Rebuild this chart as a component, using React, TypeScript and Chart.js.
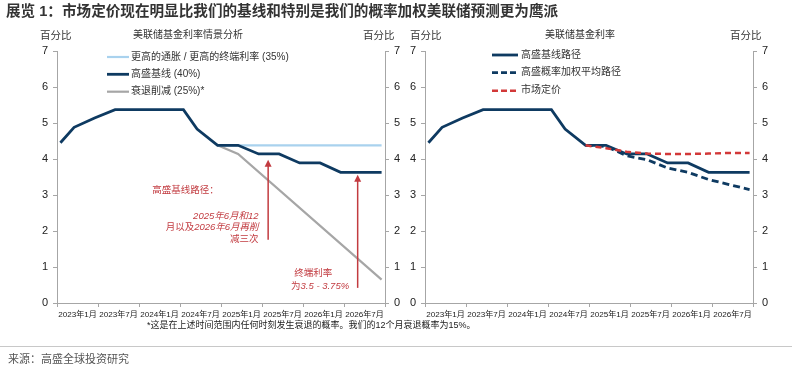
import React, { useEffect, useRef } from "react";
import { Chart, registerables } from "chart.js";

Chart.register(...registerables);

const FONT = "'Liberation Sans', Arial, 'Noto Sans CJK SC', sans-serif";
const NARROW_FONT = "'Liberation Sans Narrow', 'Arial Narrow', 'Liberation Sans', 'Noto Sans CJK SC', sans-serif";

// ---- data ----
const xTickLabels = [
  "2023年1月", "2023年7月", "2024年1月", "2024年7月",
  "2025年1月", "2025年7月", "2026年1月", "2026年7月",
];

// month index: 0 = 2023年1月
const baselineMonths = [0, 2, 5, 8, 18, 20, 23, 26, 29, 32, 35, 38, 41, 47];
const baselineValues = [4.45, 4.88, 5.14, 5.37, 5.37, 4.83, 4.38, 4.38, 4.14, 4.14, 3.89, 3.89, 3.63, 3.63];

const higherInflationMonths = [23, 47];
const higherInflationValues = [4.38, 4.38];

const recessionMonths = [23, 26, 47];
const recessionValues = [4.38, 4.14, 0.65];

const weightedMonths = [23, 26, 29, 32, 35, 38, 41, 44, 47];
const weightedValues = [4.38, 4.35, 4.09, 3.98, 3.75, 3.63, 3.43, 3.29, 3.15];

const marketMonths = [23, 26, 29, 32, 35, 38, 41, 44, 47];
const marketValues = [4.38, 4.3, 4.2, 4.15, 4.14, 4.14, 4.15, 4.17, 4.17];

const leftLegendLabels = ["更高的通胀 / 更高的终端利率 (35%)", "高盛基线 (40%)", "衰退削减 (25%)*"];
const rightLegendLabels = ["高盛基线路径", "高盛概率加权平均路径", "市场定价"];

// ---- styles ----
const AXIS_COLOR = "#a6a6a6";
const NAVY = "#0e3a61";
const LIGHT_BLUE = "#a9d2ee";
const GRAY = "#a6a6a6";
const RED = "#d23838";
const ANNOT_RED = "#c23b40";
const TEXT = "#333333";

const toPoints = (xs: number[], ys: number[]) => xs.map((x, i) => ({ x, y: ys[i] }));

function xScale() {
  return {
    type: "linear",
    min: -0.5,
    max: 47.5,
    afterBuildTicks: (s: any) => {
      const t: any[] = [];
      for (let k = 0; k <= 16; k++) t.push({ value: -0.5 + 3 * k });
      s.ticks = t;
    },
    afterFit: (s: any) => {
      s.height = 20;
    },
    grid: {
      drawOnChartArea: false,
      drawTicks: true,
      tickLength: 4,
      tickColor: (c: any) => {
        const v = c.tick ? c.tick.value : -0.5;
        return Math.round((v + 0.5) / 3) % 2 === 0 ? AXIS_COLOR : "rgba(0,0,0,0)";
      },
    },
    border: { display: true, color: AXIS_COLOR, width: 1 },
    ticks: {
      autoSkip: false,
      maxRotation: 0,
      minRotation: 0,
      padding: 3,
      color: "#222",
      font: { family: FONT, size: 8.1 },
      callback: (value: number) => {
        const k = Math.round((value + 0.5) / 3);
        return k % 2 === 1 ? xTickLabels[(k - 1) / 2] : "";
      },
    },
  };
}

function yScale(position: string, width: number) {
  return {
    type: "linear",
    display: true,
    position,
    min: 0,
    max: 7,
    afterFit: (s: any) => {
      s.width = width;
    },
    grid: { drawOnChartArea: false, drawTicks: true, tickLength: 4, tickColor: AXIS_COLOR },
    border: { display: true, color: AXIS_COLOR, width: 1 },
    ticks: { stepSize: 1, padding: 5, color: "#222", font: { family: FONT, size: 11 } },
  };
}

type LegendItem = { label: string; color: string; dash: number[]; width: number };

function legendPlugin(items: LegendItem[], x0: number, x1: number, tx: number, ys: number[]) {
  return {
    id: "customLegend",
    afterDraw(chart: any) {
      const ctx = chart.ctx;
      ctx.save();
      items.forEach((it, i) => {
        ctx.strokeStyle = it.color;
        ctx.lineWidth = it.width;
        ctx.setLineDash(it.dash);
        ctx.beginPath();
        ctx.moveTo(x0, ys[i]);
        ctx.lineTo(x1, ys[i]);
        ctx.stroke();
        ctx.setLineDash([]);
        ctx.fillStyle = TEXT;
        ctx.font = `10px ${FONT}`;
        ctx.textBaseline = "middle";
        ctx.textAlign = "left";
        ctx.fillText(it.label, tx, ys[i]);
      });
      ctx.restore();
    },
  };
}

type Run = [string, boolean];

function drawRuns(ctx: any, runs: Run[], x: number, y: number, align: "left" | "right" | "center") {
  const size = 9.5;
  const fontFor = (it: boolean) => `${it ? "italic " : ""}${size}px ${FONT}`;
  let total = 0;
  runs.forEach(([t, it]) => {
    ctx.font = fontFor(it);
    total += ctx.measureText(t).width;
  });
  let cx = align === "left" ? x : align === "right" ? x - total : x - total / 2;
  ctx.textAlign = "left";
  ctx.textBaseline = "middle";
  runs.forEach(([t, it]) => {
    ctx.font = fontFor(it);
    ctx.fillText(t, cx, y);
    cx += ctx.measureText(t).width;
  });
}

const annotationPlugin = {
  id: "annotations",
  afterDraw(chart: any) {
    const ctx = chart.ctx;
    const xs = chart.scales.x;
    const ys = chart.scales.y;
    ctx.save();
    ctx.strokeStyle = ANNOT_RED;
    ctx.fillStyle = ANNOT_RED;
    ctx.lineWidth = 1.5;
    const arrow = (m: number, top: number, bottom: number) => {
      const px = xs.getPixelForValue(m);
      const pt = ys.getPixelForValue(top);
      const pb = ys.getPixelForValue(bottom);
      ctx.beginPath();
      ctx.moveTo(px, pb);
      ctx.lineTo(px, pt + 5);
      ctx.stroke();
      ctx.beginPath();
      ctx.moveTo(px, pt);
      ctx.lineTo(px - 3.5, pt + 7);
      ctx.lineTo(px + 3.5, pt + 7);
      ctx.closePath();
      ctx.fill();
    };
    arrow(30.4, 3.98, 1.76);
    arrow(43.5, 3.56, 0.42);

    drawRuns(ctx, [["高盛基线路径：", false]], xs.getPixelForValue(18.3), ys.getPixelForValue(3.12), "center");
    const rx = xs.getPixelForValue(29.0);
    drawRuns(ctx, [["2025年6月和12", true]], rx, ys.getPixelForValue(2.42), "right");
    drawRuns(ctx, [["月以及", false], ["2026年6月再削", true]], rx, ys.getPixelForValue(2.1), "right");
    drawRuns(ctx, [["减三次", false]], rx, ys.getPixelForValue(1.78), "right");
    drawRuns(ctx, [["终端利率", false]], xs.getPixelForValue(37.0), ys.getPixelForValue(0.82), "center");
    drawRuns(ctx, [["为", false], ["3.5 - 3.75%", true]], xs.getPixelForValue(38.0), ys.getPixelForValue(0.47), "center");
    ctx.restore();
  },
};

function baseOptions(leftW: number, rightW: number) {
  return {
    responsive: false,
    animation: false,
    layout: { padding: { top: 51, bottom: 44, left: 0, right: 0 } },
    plugins: { legend: { display: false }, tooltip: { enabled: false }, title: { display: false } },
    elements: { point: { radius: 0 }, line: { tension: 0 } },
    scales: {
      x: xScale(),
      y: yScale("left", leftW),
      y2: yScale("right", rightW),
    },
  };
}

function leftConfig(): any {
  return {
    type: "line",
    data: {
      datasets: [
        { label: leftLegendLabels[1], data: toPoints(baselineMonths, baselineValues), borderColor: NAVY, borderWidth: 2.8, pointRadius: 0 },
        { label: leftLegendLabels[0], data: toPoints(higherInflationMonths, higherInflationValues), borderColor: LIGHT_BLUE, borderWidth: 2.2, pointRadius: 0 },
        { label: leftLegendLabels[2], data: toPoints(recessionMonths, recessionValues), borderColor: GRAY, borderWidth: 2.2, pointRadius: 0 },
      ],
    },
    options: baseOptions(57, 20),
    plugins: [
      legendPlugin(
        [
          { label: leftLegendLabels[0], color: LIGHT_BLUE, dash: [], width: 2.2 },
          { label: leftLegendLabels[1], color: NAVY, dash: [], width: 2.8 },
          { label: leftLegendLabels[2], color: GRAY, dash: [], width: 2.2 },
        ],
        107, 129, 131, [57, 74.3, 91.7]
      ),
      annotationPlugin,
    ],
  };
}

function rightConfig(): any {
  return {
    type: "line",
    data: {
      datasets: [
        { label: rightLegendLabels[2], data: toPoints(marketMonths, marketValues), borderColor: RED, borderWidth: 2.5, borderDash: [6, 4], pointRadius: 0 },
        { label: rightLegendLabels[0], data: toPoints(baselineMonths, baselineValues), borderColor: NAVY, borderWidth: 2.8, pointRadius: 0 },
        { label: rightLegendLabels[1], data: toPoints(weightedMonths, weightedValues), borderColor: NAVY, borderWidth: 2.8, borderDash: [7, 4], pointRadius: 0 },
      ],
    },
    options: baseOptions(20, 47),
    plugins: [
      legendPlugin(
        [
          { label: rightLegendLabels[0], color: NAVY, dash: [], width: 2.8 },
          { label: rightLegendLabels[1], color: NAVY, dash: [6, 3], width: 2.8 },
          { label: rightLegendLabels[2], color: RED, dash: [6, 3], width: 2.5 },
        ],
        492 - 405, 518 - 405, 521 - 405, [55, 72.7, 90.7]
      ),
    ],
  };
}

function ChartCanvas({ left, width, makeConfig }: { left: number; width: number; makeConfig: () => any }) {
  const ref = useRef<HTMLCanvasElement | null>(null);
  useEffect(() => {
    if (!ref.current) return;
    const chart = new Chart(ref.current, makeConfig());
    return () => chart.destroy();
  }, []);
  return (
    <canvas
      ref={ref}
      width={width}
      height={367}
      style={{ position: "absolute", left, top: 0, width, height: 367 }}
    />
  );
}

function Label({ x, y, size, text, bold, color }: { x: number; y: number; size: number; text: string; bold?: boolean; color?: string }) {
  return (
    <div
      style={{
        position: "absolute",
        left: x,
        top: y - size * 0.6,
        fontSize: size,
        lineHeight: `${size * 1.2}px`,
        fontFamily: FONT,
        fontWeight: bold ? 700 : 400,
        color: color || TEXT,
        whiteSpace: "nowrap",
      }}
    >
      {text}
    </div>
  );
}

export default function App() {
  return (
    <div style={{ position: "absolute", left: 0, top: 0, width: 800, height: 367, background: "#fff", overflow: "hidden" }}>
      <ChartCanvas left={0} width={405} makeConfig={leftConfig} />
      <ChartCanvas left={405} width={395} makeConfig={rightConfig} />
      <Label x={6} y={12} size={14.6} bold text="展览 1：市场定价现在明显比我们的基线和特别是我们的概率加权美联储预测更为鹰派" />
      <Label x={40} y={35} size={10.5} text="百分比" />
      <Label x={133} y={35} size={10} text="美联储基金利率情景分析" />
      <Label x={363} y={35} size={10.5} text="百分比" />
      <Label x={410} y={35} size={10.5} text="百分比" />
      <Label x={545} y={35} size={10} text="美联储基金利率" />
      <Label x={730} y={35} size={10.5} text="百分比" />
      <Label x={147} y={325} size={9} color="#222" text="*这是在上述时间范围内任何时刻发生衰退的概率。我们的12个月衰退概率为15%。" />
      <div style={{ position: "absolute", left: 0, top: 346, width: 792, height: 1, background: "#c8c8c8" }} />
      <Label x={8} y={360} size={11} color="#555" text="来源：高盛全球投资研究" />
    </div>
  );
}
